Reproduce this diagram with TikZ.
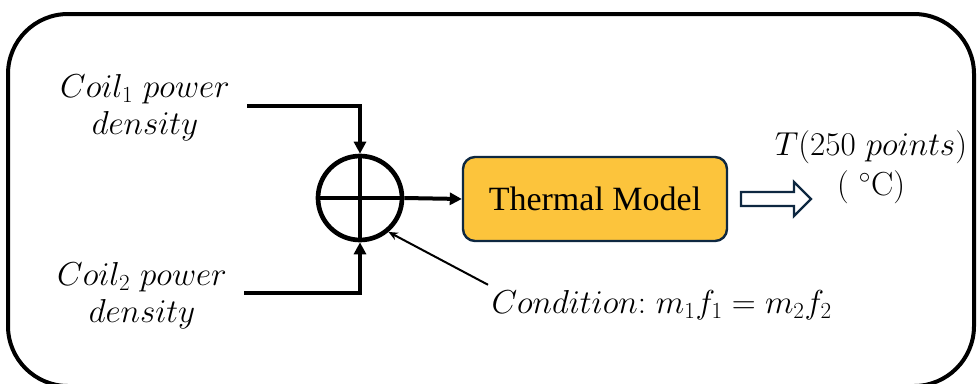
\documentclass[tikz,border=0pt]{standalone}
\usepackage{fontspec}
\newfontfamily\tnr{Liberation Serif}
\usetikzlibrary{arrows.meta}

\tikzset{every picture/.style={line width=0.75pt}}
\tikzset{
feed/.style={line width=3pt, -{Triangle[length=9pt,width=9pt]}},
mathlbl/.style={inner sep=0.75pt, font=\fontsize{24}{28}\selectfont, align=center}}

\begin{document}
\begin{tikzpicture}[x=0.75pt,y=0.75pt,yscale=-1,xscale=1]
\path[use as bounding box] (0,0) rectangle (977,383);
\clip (0,0) rectangle (977,383);

%Rounded Rect [id:frame]
\draw [line width=3pt, rounded corners=45pt] (8,14) rectangle (974,386) ;

%Shape: Circle [id:sum]
\node (sum) [circle, draw, line width=3.5pt, minimum size=63pt, inner sep=0pt] at (360,198) {};
\draw [line width=3pt] (sum.west) -- (sum.east) ;
\draw [line width=3pt] (sum.north) -- (sum.south) ;

%Rounded Rect [id:model]
\node (model) [draw={rgb, 255:red, 14; green, 40; blue, 65 }, fill={rgb, 255:red, 252; green, 196; blue, 60 }, line width=1.8pt, rounded corners=9pt, minimum width=198pt, minimum height=63pt, font=\tnr\fontsize{25.5}{30}\selectfont] at (595,199) {Thermal Model};

% Text Node
\node (coilA) [mathlbl] at (145,108) {$Coil_{1}\ power$\\$density$};
% Text Node
\node (coilB) [mathlbl] at (142,296) {$Coil_{2}\ power$\\$density$};
% Text Node
\node (outT) [mathlbl, font=\fontsize{25}{30}\selectfont] at (871,167) {$T(250\ points)$\\$(\ {}^{\circ}\mathrm{C})$};
% Text Node
\node (cond) [mathlbl, anchor=west] at (490,305) {$Condition\mathrm{:}\ m_{1}f_{1}=m_{2}f_{2}$};

%Straight Lines [id:feeds]
\draw [feed] (247,106) -| (sum.north) ;
\draw [feed] (244,293) -| (sum.south) ;
\draw [feed] (sum.east) -- (model.west) ;
%Straight Lines [id:pointer]
\draw [line width=1.5pt, -{Stealth[length=7pt,width=6pt]}] (cond.north west) ++(-2,-4) -- (sum.-50) ;

%Block Arrow [id:out]
\draw [draw={rgb, 255:red, 14; green, 40; blue, 65 }, line width=1.8pt, fill=white] (741,192) -- (794,192) -- (794,182) -- (811,199) -- (794,216) -- (794,206) -- (741,206) -- cycle ;

\end{tikzpicture}
\end{document}
